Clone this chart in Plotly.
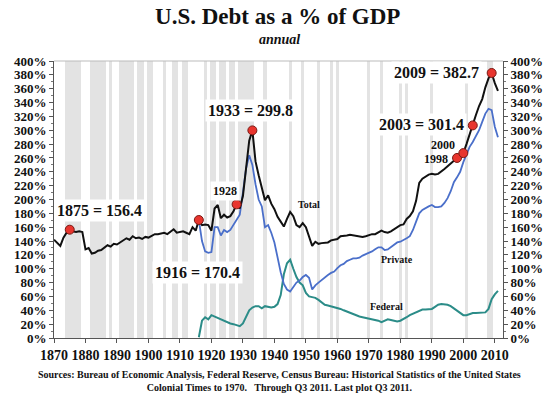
import plotly.graph_objects as go

# ---------------- data ----------------
total_years = list(range(1870, 2012))
total_vals = [
    142, 138, 133, 145, 152, 156.4, 154, 153, 154, 153,          # 1870-1879
    128, 130, 122, 123, 126, 127, 130, 134, 132, 136,            # 1880-1889
    135, 138, 140, 144, 142, 147, 144, 145, 143, 146,            # 1890-1899
    145, 148, 150, 150, 151, 152, 150, 154, 157, 152,            # 1900-1909
    153, 154, 152, 150, 160, 155, 170.4, 163, 164, 163,          # 1910-1919
    155, 187, 192, 173, 178, 174, 176, 183, 193, 187,            # 1920-1929
    205, 245, 285, 299.8, 255, 235, 215, 199, 206, 194,          # 1930-1939
    186, 175, 168, 161, 172, 182, 176, 163, 160, 166,            # 1940-1949
    160, 146, 133, 139, 136, 137, 138, 138, 141, 142,            # 1950-1959
    143, 147, 147, 148, 149, 148, 147, 147, 146, 147,            # 1960-1969
    149, 150, 150, 153, 155, 153, 152, 154, 157, 160,            # 1970-1979
    163, 164, 172, 176, 183, 198, 224, 230, 233, 236,            # 1980-1989
    237, 236, 237, 240, 244, 248, 252, 257, 260, 263,            # 1990-1999
    267, 280, 295, 307, 322, 335, 345, 362, 375, 382.7,          # 2000-2009
    368, 357,                                                    # 2010-2011
]

sub_years = list(range(1916, 2012))
private_vals = [
    170.4, 140, 125, 123,                                        # 1916-1919
    124, 160, 160, 148, 156, 153, 156, 163, 170, 178,            # 1920-1929
    210, 245, 264, 250, 222, 200, 190, 160, 163, 152,            # 1930-1939
    138, 115, 95, 78, 70, 67, 74, 80, 83, 88,                    # 1940-1949
    91, 87, 70, 76, 80, 84, 88, 91, 94, 96,                      # 1950-1959
    101, 105, 107, 111, 113, 115, 115, 116, 119, 121,            # 1960-1969
    122, 125, 128, 131, 131, 127, 128, 131, 134, 138,            # 1970-1979
    139, 141, 144, 147, 156, 168, 180, 185, 188, 190,            # 1980-1989
    192, 189, 189, 190, 195, 202, 212, 225, 232, 240,            # 1990-1999
    254, 265, 276, 283, 292, 300, 312, 324, 331, 329,            # 2000-2009
    305, 290,                                                    # 2010-2011
]
federal_vals = [
    1, 25, 30, 27,                                               # 1916-1919
    33, 31, 29, 26, 24, 22, 21, 20, 19, 17,                      # 1920-1929
    21, 30, 40, 44, 46, 46, 43, 46, 45, 44,                      # 1930-1939
    45, 49, 62, 92, 108, 113, 100, 88, 80, 76,                   # 1940-1949
    65, 60, 59, 58, 55, 52, 48, 47, 46, 45,                      # 1950-1959
    44, 42, 40, 38, 36, 34, 32, 31, 30, 29,                      # 1960-1969
    28, 27, 27, 25, 23, 25, 27, 26, 25, 24,                      # 1970-1979
    25, 27, 30, 33, 35, 37, 39, 41, 41, 41,                      # 1980-1989
    42, 45, 48, 49, 49, 48, 46, 43, 40, 36,                      # 1990-1999
    33, 33, 35, 36, 36, 36, 36, 37, 42, 56,                      # 2000-2009
    63, 68,                                                      # 2010-2011
]

recession_years = [
    1874, 1875, 1876, 1877, 1878,
    1882, 1883, 1884, 1885, 1886,
    1888,
    1891, 1892, 1893, 1894, 1895,
    1897, 1898,
    1900, 1901,
    1905,
    1908, 1909,
    1911, 1912,
    1918,
    1920, 1921,
    1923, 1924,
    1926, 1927,
    1929, 1930, 1931, 1932, 1933,
    1937,
    1945, 1949, 1954, 1958, 1960,
    1970, 1974, 1980, 1982, 1990,
    2001, 2008, 2009,
]

marked_years = [1875, 1916, 1928, 1933, 1998, 2000, 2003, 2009]

y_ticks = list(range(0, 401, 20))
y_tick_text = [f"{v}%" for v in y_ticks]
x_ticks = list(range(1870, 2011, 10))

title_text = "U.S. Debt as a % of GDP"
subtitle_text = "annual"
source_text = ("Sources: Bureau of Economic Analysis, Federal Reserve, Census Bureau: "
               "Historical Statistics of the United States<br>"
               "Colonial Times to 1970.   Through Q3 2011. Last plot Q3 2011.")

# ---------------- figure ----------------
FONT = "Liberation Serif, Times New Roman, serif"
Y_MAX = 400

fig = go.Figure()

fig.add_trace(go.Bar(
    x=recession_years, y=[Y_MAX] * len(recession_years), width=1,
    marker=dict(color="#e3e3e3", line=dict(width=0)),
    hoverinfo="skip", showlegend=False))

fig.add_trace(go.Scatter(x=sub_years, y=federal_vals, mode="lines",
                         line=dict(color="#2b8c88", width=2), showlegend=False))
fig.add_trace(go.Scatter(x=sub_years, y=private_vals, mode="lines",
                         line=dict(color="#4a6fca", width=1.8), showlegend=False))
fig.add_trace(go.Scatter(x=total_years, y=total_vals, mode="lines",
                         line=dict(color="#111111", width=2), showlegend=False))

marked_vals = [total_vals[total_years.index(y)] for y in marked_years]
fig.add_trace(go.Scatter(x=marked_years, y=marked_vals, mode="markers",
                         marker=dict(color="#e8352e", size=9,
                                     line=dict(color="#7a1a14", width=1)),
                         showlegend=False))

# invisible trace to activate the right-hand axis
fig.add_trace(go.Scatter(x=[total_years[0]], y=[0], yaxis="y2", mode="markers",
                         marker=dict(opacity=0), hoverinfo="skip", showlegend=False))

ann_font = dict(family=FONT, size=16, color="#111111")
small_font = dict(family=FONT, size=12, color="#111111")
tiny_font = dict(family=FONT, size=10, color="#111111")

annots = [
    ("<b>1875 = 156.4</b>", 1884.3, 184, ann_font, "white"),
    ("<b>1916 = 170.4</b>", 1915.6, 95, ann_font, "white"),
    ("<b>1928</b>", 1924.2, 213, small_font, "white"),
    ("<b>1933 = 299.8</b>", 1932.4, 329, ann_font, "white"),
    ("<b>Total</b>", 1951.1, 193, tiny_font, None),
    ("<b>Private</b>", 1979.0, 114, tiny_font, None),
    ("<b>Federal</b>", 1975.5, 46, tiny_font, None),
    ("<b>2009 = 382.7</b>", 1991.4, 384, ann_font, "white"),
    ("<b>2003 = 301.4</b>", 1986.6, 309, ann_font, "white"),
    ("<b>2000</b>", 1993.6, 279, small_font, None),
    ("<b>1998</b>", 1991.4, 259, small_font, None),
]
annotations = []
for text, ax_, ay_, f, bg in annots:
    a = dict(text=text, x=ax_, y=ay_, xref="x", yref="y", showarrow=False,
             font=f, xanchor="center", yanchor="middle")
    if bg:
        a["bgcolor"] = bg
        a["borderpad"] = 2
    annotations.append(a)

annotations.append(dict(text=f"<b><i>{subtitle_text}</i></b>", x=0.502, y=1.079,
                        xref="paper", yref="paper", showarrow=False,
                        font=dict(family=FONT, size=14, color="#111111"),
                        xanchor="center", yanchor="middle"))
annotations.append(dict(text=f"<b>{source_text}</b>", x=0.503, y=-0.155,
                        xref="paper", yref="paper", showarrow=False,
                        font=dict(family=FONT, size=10, color="#111111"),
                        xanchor="center", yanchor="middle", align="center"))

axis_common = dict(
    range=[0, Y_MAX], tickvals=y_ticks, ticktext=y_tick_text,
    showgrid=False, zeroline=False, showline=True, linecolor="#555555",
    linewidth=1, ticks="outside", ticklen=4, tickcolor="#555555",
    tickfont=dict(family=FONT, size=13, color="#111111", weight="bold"),
    minor=dict(dtick=10, ticks="outside", ticklen=2, tickcolor="#777777"),
    fixedrange=True, automargin=False,
)

fig.update_layout(
    width=550, height=399,
    margin=dict(l=54, r=47, t=61, b=61),
    paper_bgcolor="white", plot_bgcolor="white",
    bargap=0,
    hovermode=False,
    title=dict(text=f"<b>{title_text}</b>", x=0.505, xanchor="center",
               y=0.96, yanchor="middle",
               font=dict(family=FONT, size=23, color="#111111")),
    xaxis=dict(range=[1870, 2012.6], tickvals=x_ticks, showgrid=False,
               zeroline=False, showline=True, linecolor="#555555", linewidth=1,
               ticks="outside", ticklen=4, tickcolor="#555555", automargin=False,
               fixedrange=True,
               tickfont=dict(family=FONT, size=14, color="#111111", weight="bold")),
    yaxis=dict(**axis_common, side="left"),
    yaxis2=dict(**axis_common, side="right", overlaying="y"),
    annotations=annotations,
    shapes=[dict(type="line", xref="paper", yref="paper", x0=0, x1=1, y0=1, y1=1,
                 line=dict(color="#bbbbbb", width=1))],
)

fig.write_html("out.html", config={"displayModeBar": False},
               post_script="document.body.style.margin='0px';")
